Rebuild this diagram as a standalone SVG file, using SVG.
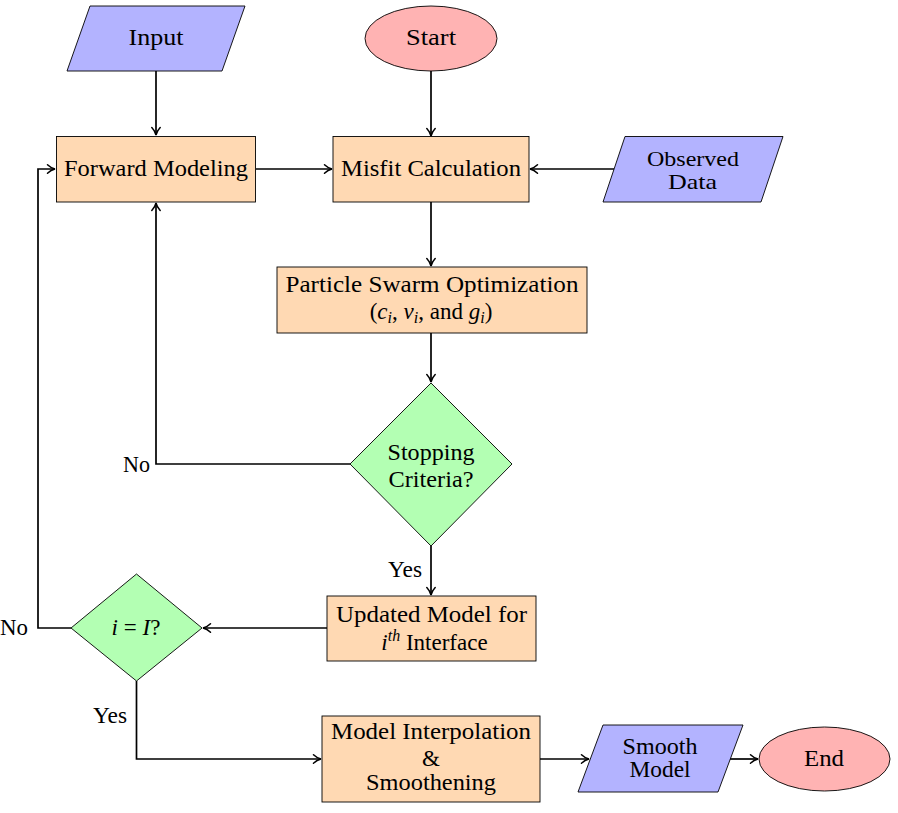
<svg xmlns="http://www.w3.org/2000/svg" width="898" height="813" viewBox="0 0 898 813" font-family="'Liberation Serif', 'DejaVu Serif', serif">
<style>
  text { font-size: 23px; fill: #000; }
  .m { text-anchor: middle; }
  .it { font-style: italic; }
  .sm { font-size: 21px; }
  .io { fill: #B3B3FF; stroke: #000; stroke-width: 0.9; }
  .proc { fill: #FFD9B3; stroke: #000; stroke-width: 0.9; }
  .dec { fill: #B3FFB3; stroke: #000; stroke-width: 0.9; }
  .term { fill: #FFB3B3; stroke: #000; stroke-width: 0.9; }
  .ca { fill: none; stroke: #000; stroke-width: 1.7; marker-end: url(#arr); }
</style>
<defs>
  <marker id="arr" markerUnits="userSpaceOnUse" markerWidth="12" markerHeight="12" viewBox="-9 -6 10 12" refX="0" refY="0" orient="auto">
    <path d="M -7.5 -4.2 C -4.8 -1.6 -2.2 -0.5 0 0 C -2.2 0.5 -4.8 1.6 -7.5 4.2" fill="none" stroke="#000" stroke-width="1.5" stroke-linecap="round"/>
  </marker>
</defs>
<rect width="898" height="813" fill="#fff"/>

<g id="connectors">
  <path class="ca" d="M 156 71 L 156 135"/>
  <path class="ca" d="M 431 71 L 431 136"/>
  <path class="ca" d="M 256 169 L 332 169"/>
  <path class="ca" d="M 614 169 L 530 169"/>
  <path class="ca" d="M 431 202 L 431 266"/>
  <path class="ca" d="M 431 333 L 431 382"/>
  <path class="ca" d="M 350 464 L 156 464 L 156 203"/>
  <path class="ca" d="M 431 546 L 431 595"/>
  <path class="ca" d="M 327 628 L 203 628"/>
  <path class="ca" d="M 71 628 L 38 628 L 38 169 L 55 169"/>
  <path class="ca" d="M 136.5 681 L 136.5 759 L 321 759"/>
  <path class="ca" d="M 540 759 L 589 759"/>
  <path class="ca" d="M 730 759 L 758 759"/>
  <text x="150" y="472" text-anchor="end" textLength="27" lengthAdjust="spacingAndGlyphs">No</text>
  <text x="0" y="635" textLength="28" lengthAdjust="spacingAndGlyphs">No</text>
  <text x="405" y="577" class="m" textLength="34" lengthAdjust="spacingAndGlyphs">Yes</text>
  <text x="110" y="723" class="m" textLength="34" lengthAdjust="spacingAndGlyphs">Yes</text>
</g>

<g id="input">
  <polygon class="io" points="90,6 245,6 222,71 67,71"/>
  <text x="156" y="45" class="m" textLength="55" lengthAdjust="spacingAndGlyphs">Input</text>
</g>

<g id="start">
  <ellipse class="term" cx="431" cy="38.5" rx="66" ry="32.5"/>
  <text x="431" y="45" class="m" textLength="50" lengthAdjust="spacingAndGlyphs">Start</text>
</g>

<g id="forward">
  <rect class="proc" x="56.5" y="136.5" width="199" height="65.5"/>
  <text x="156" y="176" class="m" textLength="184" lengthAdjust="spacingAndGlyphs">Forward Modeling</text>
</g>

<g id="misfit">
  <rect class="proc" x="333" y="136.5" width="196" height="65.5"/>
  <text x="431" y="176" class="m" textLength="180" lengthAdjust="spacingAndGlyphs">Misfit Calculation</text>
</g>

<g id="observed">
  <polygon class="io" points="625,136.5 783,136.5 761,202 603,202"/>
  <text x="693" y="166" class="m sm" textLength="92" lengthAdjust="spacingAndGlyphs">Observed</text>
  <text x="692.5" y="188.5" class="m sm" textLength="49" lengthAdjust="spacingAndGlyphs">Data</text>
</g>

<g id="pso">
  <rect class="proc" x="277" y="267" width="310" height="66"/>
  <text x="432" y="292" class="m" textLength="293" lengthAdjust="spacingAndGlyphs">Particle Swarm Optimization</text>
  <text x="431" y="319" class="m">(<tspan class="it">c</tspan><tspan class="it" font-size="16" dy="4">i</tspan><tspan dy="-4">, </tspan><tspan class="it">v</tspan><tspan class="it" font-size="16" dy="4">i</tspan><tspan dy="-4">, and </tspan><tspan class="it">g</tspan><tspan class="it" font-size="16" dy="4">i</tspan><tspan dy="-4">)</tspan></text>
</g>

<g id="stopping">
  <polygon class="dec" points="431,383 512,464 431,546 350,464"/>
  <text x="431" y="460" class="m" textLength="87" lengthAdjust="spacingAndGlyphs">Stopping</text>
  <text x="431" y="487" class="m" textLength="85" lengthAdjust="spacingAndGlyphs">Criteria?</text>
</g>

<g id="updated">
  <rect class="proc" x="327" y="596" width="209" height="65"/>
  <text x="431.5" y="622" class="m" textLength="191" lengthAdjust="spacingAndGlyphs">Updated Model for</text>
  <text x="434.5" y="650" class="m"><tspan class="it">i</tspan><tspan class="it" font-size="16" dy="-9">th</tspan><tspan dy="9"> Interface</tspan></text>
</g>

<g id="check">
  <polygon class="dec" points="136.5,574 202,628 136.5,681 71,628"/>
  <text x="136" y="635" class="m"><tspan class="it">i</tspan> = <tspan class="it">I</tspan>?</text>
</g>

<g id="interp">
  <rect class="proc" x="322" y="716" width="218" height="86"/>
  <text x="431" y="739" class="m" textLength="200" lengthAdjust="spacingAndGlyphs">Model Interpolation</text>
  <text x="431" y="766" class="m">&amp;</text>
  <text x="431" y="790" class="m" textLength="130" lengthAdjust="spacingAndGlyphs">Smoothening</text>
</g>

<g id="smooth">
  <polygon class="io" points="603,725 743,725 718,792 578,792"/>
  <text x="660" y="754" class="m" textLength="75" lengthAdjust="spacingAndGlyphs">Smooth</text>
  <text x="660" y="777" class="m" textLength="61" lengthAdjust="spacingAndGlyphs">Model</text>
</g>

<g id="end">
  <ellipse class="term" cx="824.5" cy="759" rx="65.5" ry="32"/>
  <text x="824" y="766" class="m" textLength="40" lengthAdjust="spacingAndGlyphs">End</text>
</g>
</svg>
